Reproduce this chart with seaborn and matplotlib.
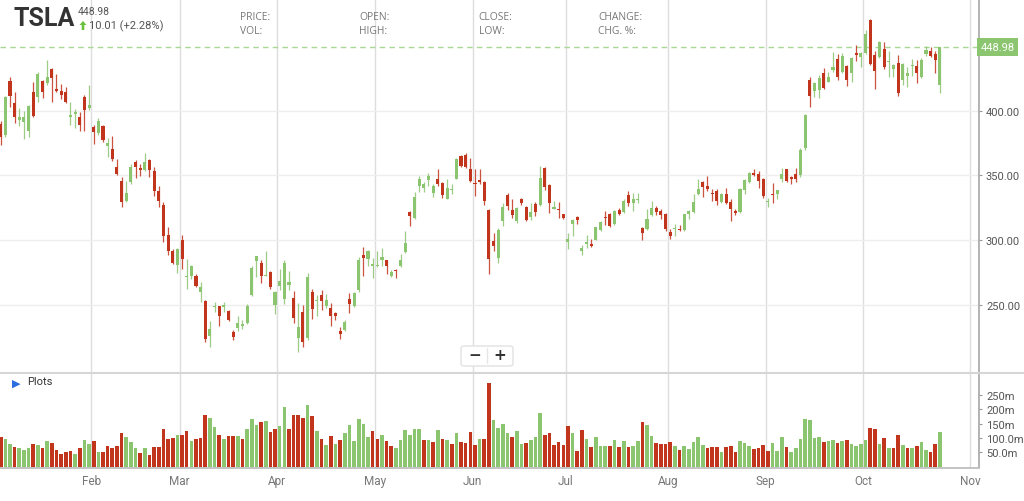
import numpy as np
import pandas as pd
import matplotlib
matplotlib.use("Agg")
import matplotlib.pyplot as plt
import matplotlib.transforms as mtransforms
from matplotlib.patches import FancyBboxPatch, Polygon
from matplotlib.lines import Line2D
import seaborn as sns

TICKER = "TSLA"
LAST_PRICE = 448.98
CHANGE_TEXT = "10.01 (+2.28%)"

# trading calendar (NYSE 2025)
START_DATE = "2025-01-02"
HOLIDAYS = ["2025-01-09", "2025-01-20", "2025-02-17", "2025-04-18",
            "2025-05-26", "2025-06-19", "2025-07-04", "2025-09-01"]

opens = [389.7, 381.0, 423.2, 405.9, 393.0, 391.5, 384.5, 414.2, 410.3, 423.2,
         421.4, 432.2, 416.7, 415.5, 414.2, 395.4, 397.4, 395.4, 410.8, 401.8,
         387.1, 382.7, 387.9, 373.0, 370.4, 356.2, 345.9, 330.4, 345.1, 360.6,
         355.4, 354.4, 362.1, 353.6, 338.2, 327.4, 303.9, 291.3, 280.7, 300.3,
         271.3, 272.5, 272.5, 260.1, 253.2, 225.6, 248.0, 248.8, 248.0, 245.4,
         228.7, 231.8, 233.4, 235.9, 257.8, 283.6, 282.3, 272.5, 275.3, 250.0,
         264.5, 254.4, 265.0, 255.2, 224.2, 244.3, 224.2, 259.6, 252.6, 257.8,
         249.2, 247.4, 243.5, 230.1, 230.6, 254.4, 249.2, 261.6, 288.8, 285.4,
         280.2, 279.7, 284.4, 284.4, 272.5, 276.4, 279.7, 290.6, 321.6, 317.2,
         342.2, 340.4, 346.4, 336.6, 347.4, 344.3, 331.9, 338.4, 347.4, 365.0,
         365.5, 355.2, 344.3, 346.1, 344.8, 322.9, 299.1, 286.2, 314.6, 334.5,
         323.1, 314.6, 331.4, 325.7, 318.0, 328.0, 327.5, 355.9, 342.5, 324.4,
         324.4, 319.8, 298.8, 312.8, 318.0, 291.3, 297.3, 297.3, 300.4, 308.1,
         317.7, 319.8, 312.8, 323.6, 321.6, 334.5, 328.8, 330.9, 309.6, 308.3,
         319.1, 325.0, 322.4, 319.9, 306.2, 308.5, 308.8, 307.8, 319.9, 321.7,
         335.3, 344.8, 341.8, 336.6, 337.9, 329.6, 335.8, 329.4, 322.4, 321.7,
         338.7, 344.8, 352.1, 351.3, 346.9, 329.4, 335.3, 335.8, 347.4, 354.6,
         348.7, 350.8, 350.2, 371.0, 423.7, 414.9, 416.0, 428.9, 422.4, 431.4,
         439.9, 429.6, 434.8, 428.8, 444.6, 441.7, 444.3, 470.1, 443.3, 441.2,
         447.7, 437.4, 432.2, 436.6, 423.7, 427.0, 434.8, 434.8, 425.8, 443.8,
         445.9, 443.8, 420.1]
highs = [392.3, 411.6, 425.8, 414.2, 401.8, 400.0, 404.4, 422.4, 429.6, 424.0,
         439.4, 432.7, 428.3, 420.6, 418.5, 406.4, 401.3, 398.7, 412.1, 419.8,
         389.0, 394.1, 389.0, 378.9, 380.7, 362.6, 349.0, 345.9, 358.8, 361.9,
         358.8, 367.3, 362.6, 356.2, 342.0, 329.2, 309.8, 293.1, 293.6, 303.9,
         285.4, 280.7, 273.8, 267.3, 254.0, 237.7, 251.9, 249.3, 252.4, 245.9,
         230.5, 241.6, 238.3, 250.6, 279.7, 288.0, 284.9, 291.3, 275.8, 260.3,
         277.6, 284.9, 275.8, 260.3, 251.3, 250.0, 274.5, 262.1, 257.8, 261.6,
         258.5, 251.3, 244.1, 233.2, 237.9, 259.0, 259.6, 286.7, 294.7, 292.6,
         286.2, 291.3, 294.0, 284.9, 277.1, 277.6, 289.5, 306.8, 322.4, 337.1,
         349.5, 344.8, 351.6, 343.0, 354.7, 344.8, 346.9, 343.0, 363.7, 365.5,
         367.1, 363.7, 354.7, 355.2, 345.6, 324.2, 305.6, 309.4, 328.8, 336.6,
         331.9, 325.7, 332.7, 326.2, 328.8, 329.3, 357.2, 356.5, 343.0, 330.6,
         329.6, 320.3, 305.6, 316.7, 318.5, 296.5, 304.3, 300.9, 310.2, 315.1,
         322.4, 321.1, 323.6, 324.9, 331.4, 337.9, 336.6, 336.6, 310.0, 323.7,
         330.2, 326.3, 324.2, 320.6, 308.8, 312.1, 311.4, 320.4, 323.0, 335.3,
         346.9, 345.5, 349.5, 339.2, 339.2, 336.1, 340.5, 331.5, 323.7, 340.5,
         346.9, 352.6, 355.2, 353.3, 348.2, 332.7, 343.8, 338.9, 355.9, 355.2,
         349.5, 355.9, 371.0, 397.5, 425.8, 422.4, 427.8, 433.0, 429.6, 445.1,
         443.8, 444.3, 435.3, 441.2, 450.7, 445.1, 462.3, 470.8, 446.4, 454.1,
         452.8, 446.4, 436.1, 443.0, 436.6, 434.0, 439.9, 439.2, 440.4, 449.7,
         449.5, 445.9, 449.5]
lows = [373.3, 380.0, 402.6, 390.5, 387.9, 378.0, 380.0, 394.8, 406.4, 409.5,
        419.8, 407.0, 414.2, 409.0, 405.9, 388.9, 386.3, 384.5, 384.5, 400.5,
        374.3, 381.2, 376.0, 363.9, 360.8, 350.5, 325.8, 329.2, 343.3, 348.0,
        349.8, 353.6, 348.5, 334.3, 325.3, 298.2, 288.7, 281.3, 274.3, 277.8,
        262.2, 269.9, 263.5, 251.9, 221.0, 217.6, 244.2, 233.8, 244.2, 237.7,
        223.0, 230.0, 231.3, 235.1, 256.5, 271.2, 266.8, 272.0, 262.0, 243.0,
        261.6, 250.8, 261.6, 236.3, 213.8, 217.7, 222.9, 239.1, 241.0, 246.1,
        247.4, 234.0, 237.9, 223.4, 230.1, 243.5, 248.7, 259.6, 272.5, 279.7,
        270.7, 279.2, 279.7, 274.0, 271.5, 270.7, 279.2, 290.0, 311.2, 316.7,
        337.3, 337.1, 342.2, 333.2, 341.7, 332.7, 331.4, 336.0, 346.9, 356.7,
        355.9, 344.8, 334.0, 343.0, 327.5, 274.0, 291.3, 282.3, 310.7, 323.6,
        317.2, 313.3, 327.5, 314.6, 315.9, 318.5, 326.2, 339.1, 321.1, 324.2,
        317.2, 316.7, 293.2, 303.5, 312.8, 288.8, 293.9, 294.7, 299.9, 306.8,
        312.0, 310.2, 312.0, 319.3, 321.1, 326.2, 322.4, 328.8, 299.9, 308.0,
        318.6, 319.1, 316.5, 307.0, 300.5, 303.1, 307.0, 307.0, 316.0, 321.1,
        334.5, 333.5, 337.9, 330.2, 326.8, 328.9, 327.6, 314.7, 319.1, 320.6,
        335.3, 343.8, 349.5, 340.5, 332.7, 325.5, 328.4, 332.0, 344.8, 344.8,
        343.6, 344.8, 348.5, 370.0, 402.6, 410.8, 409.8, 416.7, 421.9, 429.6,
        423.7, 428.8, 419.3, 421.9, 438.6, 433.5, 443.8, 435.5, 416.7, 440.7,
        432.2, 425.8, 425.8, 411.6, 420.1, 418.0, 427.0, 421.1, 425.2, 442.5,
        441.7, 428.8, 413.4]
closes = [379.4, 410.3, 411.6, 394.8, 394.8, 394.8, 403.3, 396.1, 428.3, 414.2,
          425.8, 425.0, 414.9, 412.4, 406.4, 396.6, 398.7, 389.2, 400.5, 404.6,
          383.8, 392.3, 377.6, 374.8, 362.7, 351.1, 329.2, 336.4, 356.2, 356.2,
          354.4, 360.6, 354.4, 338.2, 330.4, 303.4, 291.8, 282.3, 293.1, 285.4,
          272.5, 279.7, 264.2, 263.5, 223.5, 231.3, 249.3, 241.6, 249.8, 238.5,
          224.8, 235.9, 235.3, 249.3, 278.4, 288.0, 272.0, 273.3, 263.7, 259.6,
          268.1, 282.3, 267.3, 239.7, 233.2, 221.6, 271.2, 247.0, 253.4, 252.6,
          253.4, 241.5, 241.5, 227.3, 237.1, 250.8, 259.0, 284.4, 286.2, 291.3,
          281.3, 280.5, 287.0, 280.2, 275.3, 275.8, 284.4, 297.8, 318.5, 333.5,
          347.4, 343.5, 349.5, 342.2, 343.0, 334.5, 340.4, 339.1, 362.9, 357.2,
          356.7, 345.6, 343.0, 345.1, 330.1, 285.4, 295.2, 308.1, 325.7, 326.2,
          319.3, 324.9, 328.8, 315.9, 321.6, 321.8, 348.2, 341.2, 328.3, 325.7,
          323.6, 317.2, 300.9, 315.9, 315.4, 293.9, 298.3, 295.7, 310.0, 313.8,
          316.9, 310.7, 322.4, 319.8, 330.1, 328.8, 331.9, 331.9, 305.3, 316.0,
          325.0, 321.7, 319.1, 308.3, 303.1, 309.3, 308.0, 319.9, 322.4, 329.4,
          339.2, 341.0, 339.2, 335.6, 330.2, 335.3, 328.9, 323.7, 321.1, 339.7,
          346.1, 351.5, 350.3, 345.6, 334.0, 330.2, 334.5, 338.4, 350.8, 345.6,
          346.9, 347.4, 370.0, 396.7, 411.6, 421.1, 425.2, 417.5, 425.8, 433.5,
          425.8, 442.5, 423.7, 440.4, 443.0, 444.6, 459.2, 436.1, 430.4, 453.3,
          433.5, 438.6, 435.3, 413.4, 436.1, 428.8, 435.5, 428.8, 439.2, 446.9,
          442.5, 439.2, 448.98]
# volume in millions
volumes = [105, 96, 80, 70, 67, 59, 64, 80, 75, 65, 90, 84, 59, 46, 52, 55, 45, 65, 92, 81,
           90, 52, 52, 73, 67, 73, 116, 102, 88, 65, 47, 65, 42, 70, 70, 131, 98, 99, 111, 111,
           125, 90, 96, 99, 181, 171, 140, 111, 96, 107, 107, 107, 96, 131, 165, 145, 154, 160, 121, 131,
           142, 208, 133, 180, 180, 168, 216, 177, 125, 96, 76, 107, 81, 94,
           119, 146, 90, 165, 150, 105, 125, 96, 111, 90, 74, 67, 92, 127, 110, 133, 133, 92, 92, 87,
           127, 98, 92, 81, 119, 88, 83, 121, 77, 96, 96, 290, 162, 136, 150, 119, 102, 125, 81, 84,
           92, 105, 188, 111, 116, 77, 88, 75, 142, 116, 55, 127, 98, 70, 102, 73, 73, 73, 92, 70,
           90, 70, 73, 90, 154, 145, 107, 82, 79, 79, 88, 73, 58,
           73, 61, 87, 102, 76, 65, 70, 70, 52, 70, 73, 52, 90, 84, 73, 61, 64, 76, 55, 84,
           55, 105, 70, 50, 67, 98, 165, 162, 99, 104, 87, 90, 92, 82, 90, 95, 80, 72, 78, 92,
           134, 131, 81, 99, 67, 65, 110, 76, 67, 67, 73, 87, 59, 50, 79, 121]

price_ticks = [250, 300, 350, 400]
price_tick_labels = ["250.00", "300.00", "350.00", "400.00"]
volume_ticks = [50, 100, 150, 200, 250]
volume_tick_labels = ["50.0m", "100.0m", "150m", "200m", "250m"]
month_numbers = [2, 3, 4, 5, 6, 7, 8, 9, 10, 11]
month_labels = ["Feb", "Mar", "Apr", "May", "Jun", "Jul", "Aug", "Sep", "Oct", "Nov"]

header_left = ["PRICE:", "OPEN:", "CLOSE:", "CHANGE:"]
header_right = ["VOL:", "HIGH:", "LOW:", "CHG. %:"]

GREEN = "#8cc56f"
RED = "#c1351d"
W, H = 1024, 502


def fx(px):
    return px / W


def fy(py):
    return 1 - py / H


sns.set_theme(style="white")
plt.rcParams["font.family"] = ["Roboto", "DejaVu Sans"]

n = len(closes)
idx = np.arange(n)
o, h, l, c = map(np.array, (opens, highs, lows, closes))

days = pd.bdate_range(START_DATE, "2025-11-14", freq="C", holidays=HOLIDAYS)
month_pos = [np.argmax(days.month == m) - 0.5 for m in month_numbers]

fig = plt.figure(figsize=(W / 100, H / 100), dpi=100)
ax = fig.add_axes([0, fy(373), fx(979), 373 / H])
axv = fig.add_axes([0, fy(468.5), fx(979), (468.5 - 375) / H])

# candles
up = c >= o
candle_colors = np.where(up, GREEN, RED)
body_low = np.minimum(o, c)
body_h = np.maximum(np.abs(c - o), 0.8)
ax.vlines(idx, l, h, colors=candle_colors, lw=0.9, alpha=0.85, zorder=2)
ax.bar(idx, body_h, bottom=body_low, width=0.66, color=candle_colors, linewidth=0, zorder=3)

ax.axhline(LAST_PRICE, color="#a8d893", lw=1, ls=(0, (4, 3)), zorder=1)
trans = mtransforms.blended_transform_factory(ax.transAxes, ax.transData)
ax.text(1.0015, LAST_PRICE, f"{LAST_PRICE:.2f}", transform=trans, ha="left", va="center",
        color="white", fontsize=8, clip_on=False,
        bbox=dict(boxstyle="square,pad=0.35", fc=GREEN, ec="none"))

ax.set_xlim(-0.15, 210.4)
ax.set_ylim(198.1, 486.3)
ax.set_xticks(month_pos)
ax.set_yticks(price_ticks)
ax.set_yticklabels(price_tick_labels)
ax.yaxis.tick_right()
ax.tick_params(axis="x", length=0, labelbottom=False)
ax.tick_params(axis="y", direction="out", length=2.5, width=0.8, pad=2.5,
               color="#999999", labelcolor="#555555", labelsize=8)
ax.grid(axis="y", color="#eeeeee", lw=1)
ax.grid(axis="x", color="#dddddd", lw=1)
ax.set_axisbelow(True)
for side in ["left", "top", "bottom"]:
    ax.spines[side].set_visible(False)
ax.spines["right"].set_color("#aaaaaa")

# volume
vol_up = np.empty(n, dtype=bool)
vol_up[0] = c[0] >= o[0]
vol_up[1:] = c[1:] >= c[:-1]
vdf = pd.DataFrame({"i": idx, "vol": volumes, "dir": np.where(vol_up, "up", "down")})
sns.barplot(data=vdf, x="i", y="vol", hue="dir", palette={"up": GREEN, "down": RED},
            native_scale=True, dodge=False, width=0.78, errorbar=None, saturation=1,
            linewidth=0, legend=False, ax=axv)
axv.set_xlim(-0.15, 210.4)
axv.set_ylim(-2, 322)
axv.set_xticks(month_pos)
axv.set_xticklabels(month_labels)
axv.set_yticks(volume_ticks)
axv.set_yticklabels(volume_tick_labels)
axv.yaxis.tick_right()
axv.set_xlabel("")
axv.set_ylabel("")
axv.tick_params(axis="x", length=0, pad=5, labelcolor="#777777", labelsize=8.5)
axv.tick_params(axis="y", direction="out", length=2.5, width=0.8, pad=2.5,
                color="#999999", labelcolor="#555555", labelsize=8)
axv.grid(axis="x", color="#dddddd", lw=1)
axv.grid(axis="y", visible=False)
axv.set_axisbelow(True)
for side in ["left", "top"]:
    axv.spines[side].set_visible(False)
axv.spines["right"].set_color("#aaaaaa")
axv.spines["bottom"].set_color("#bbbbbb")

# panel separator
fig.add_artist(Line2D([0, 1], [fy(374), fy(374)], transform=fig.transFigure,
                      color="#d6d6d6", lw=1.5))

# header
fig.text(fx(14), fy(19), TICKER, fontsize=18, fontweight="bold", color="#333333", va="center")
fig.text(fx(78), fy(12), f"{LAST_PRICE:.2f}", fontsize=7.5, color="#555555", va="center")
fig.add_artist(Polygon([(fx(79.5), fy(26)), (fx(83), fy(22)), (fx(86.5), fy(26)),
                        (fx(84.3), fy(26)), (fx(84.3), fy(31)), (fx(81.7), fy(31)),
                        (fx(81.7), fy(26))], closed=True, transform=fig.transFigure,
                       fc="#6abf3b", ec="none"))
fig.text(fx(89), fy(26.5), CHANGE_TEXT, fontsize=8, color="#555555", va="center")
for k, (t1, t2) in enumerate(zip(header_left, header_right)):
    x0 = 240 + k * 119.3
    fig.text(fx(x0), fy(18), t1, fontsize=7.4, color="#777777", va="center", family="Open Sans")
    fig.text(fx(x0), fy(32), t2, fontsize=7.4, color="#777777", va="center", family="Open Sans")

# plots label
fig.text(fx(12), fy(384), "\u25B6", fontsize=8, color="#2a6de0", va="center", family="DejaVu Sans")
fig.text(fx(27), fy(382.5), "Plots", fontsize=8, color="#333333", va="center")

# zoom buttons
fig.add_artist(FancyBboxPatch((fx(461), fy(367)), fx(52), 20 / H,
                              boxstyle="round,pad=0,rounding_size=0.004",
                              transform=fig.transFigure, fc="white", ec="#e2e2e2", lw=1))
fig.add_artist(Line2D([fx(487), fx(487)], [fy(349), fy(364)], transform=fig.transFigure,
                      color="#e6e6e6", lw=1))
fig.text(fx(475), fy(355.5), "\u2212", fontsize=11, color="#333333", ha="center", va="center",
         fontweight="bold", family="DejaVu Sans")
fig.text(fx(500), fy(355.5), "+", fontsize=11, color="#333333", ha="center", va="center",
         fontweight="bold", family="DejaVu Sans")

fig.savefig("out.png", dpi=100)
